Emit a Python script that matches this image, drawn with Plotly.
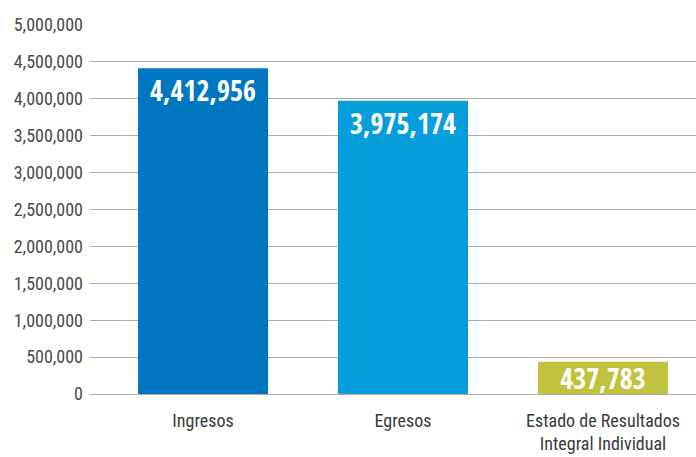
import plotly.graph_objects as go

categorias = ["Ingresos", "Egresos", "Estado de Resultados<br>Integral Individual"]
valores = [4412956, 3975174, 437783]
colores = ["#0077C0", "#089EDB", "#C1C33E"]
ticks = [0, 500000, 1000000, 1500000, 2000000, 2500000, 3000000, 3500000, 4000000, 4500000, 5000000]

etiqueta = dict(family="Open Sans Condensed", size=28, color="white", weight="bold")

fig = go.Figure()
# barras altas: etiqueta arriba
fig.add_trace(go.Bar(
    x=categorias[:2], y=valores[:2],
    marker=dict(color=colores[:2], line=dict(width=0)),
    width=0.65,
    text=[f"{v:,}" for v in valores[:2]],
    textposition="inside", insidetextanchor="end", textangle=0,
    constraintext="none", textfont=etiqueta,
))
# barra baja: etiqueta centrada
fig.add_trace(go.Bar(
    x=categorias[2:], y=valores[2:],
    marker=dict(color=colores[2:], line=dict(width=0)),
    width=0.65,
    text=[f"{v:,}" for v in valores[2:]],
    textposition="inside", insidetextanchor="middle", textangle=0,
    constraintext="none", textfont=etiqueta,
))

fig.update_layout(
    width=696, height=457,
    margin=dict(l=90, r=0, t=24, b=63),
    plot_bgcolor="white", paper_bgcolor="white",
    showlegend=False, barmode="overlay",
    font=dict(family="Roboto Condensed", size=18, color="#4a4a4a"),
    uniformtext=dict(mode="show", minsize=8),
    xaxis=dict(range=[-0.565, 2.465], categoryorder="array", categoryarray=categorias,
               showgrid=False, showline=False, ticks="",
               automargin=False, ticklabelstandoff=14, tickfont=dict(size=18, color="#3a3a3a")),
    yaxis=dict(range=[0, 5013500], tickvals=ticks, tickformat=",d",
               showgrid=True, gridcolor="#B3A99F", gridwidth=1,
               zeroline=True, zerolinecolor="#B3A99F", zerolinewidth=1,
               showline=False, ticks="", ticklabelstandoff=6, automargin=False),
)

fig.write_html("out.html", config={"displayModeBar": False},
               post_script="document.body.style.margin='0';")
